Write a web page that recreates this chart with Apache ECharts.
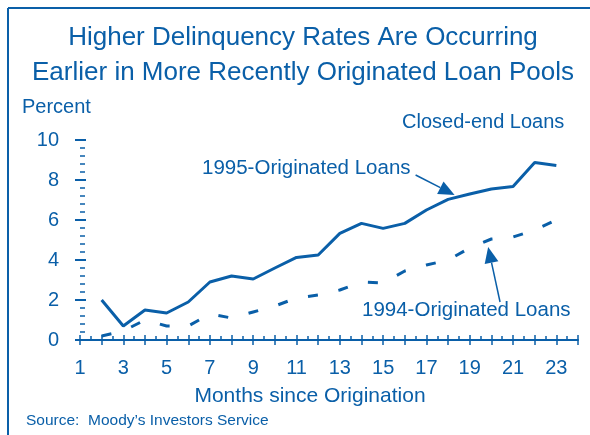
<!DOCTYPE html>
<html>
<head>
<meta charset="utf-8">
<script src="https://cdn.jsdelivr.net/npm/echarts@6/dist/echarts.min.js"></script>
<style>
  html, body { margin: 0; padding: 0; background: #fff; }
  #main { width: 590px; height: 435px; }
</style>
</head>
<body>
<div id="main"></div>
<script>
// months since origination
var months = [2, 3, 4, 5, 6, 7, 8, 9, 10, 11, 12, 13, 14, 15, 16, 17, 18, 19, 20, 21, 22, 23];
// delinquency rate, percent
var loans1995 = [2.0, 0.7, 1.5, 1.35, 1.9, 2.9, 3.2, 3.05, 3.6, 4.13, 4.25, 5.33, 5.83, 5.58, 5.83, 6.5, 7.03, 7.3, 7.55, 7.67, 8.87, 8.73];
var loans1994 = [0.2, 0.45, 1.0, 0.7, 0.7, 1.3, 1.1, 1.4, 1.7, 2.1, 2.25, 2.5, 2.9, 2.85, 3.45, 3.75, 4.0, 4.6, 5.05, 5.15, 5.5, 6.0];
var xTickLabels = ['1', '3', '5', '7', '9', '11', '13', '15', '17', '19', '21', '23'];

var blue = '#0a5fa8';
var font = '"Liberation Sans", Arial, sans-serif';

function pairs(xs, ys) {
    var out = [];
    for (var i = 0; i < xs.length; i++) {
        out.push([xs[i], ys[i]]);
    }
    return out;
}

var mychart = echarts.init(document.getElementById('main'));

var option = {
    animation: false,
    backgroundColor: '#fff',
    textStyle: { fontFamily: font, color: blue },
    grid: { left: 80, right: 12, top: 140, bottom: 95 },
    xAxis: [
        {
            type: 'value', min: 1, max: 24, interval: 1,
            axisLine: { show: true, lineStyle: { color: blue, width: 2 } },
            axisTick: { show: true, inside: true, length: 5, lineStyle: { color: blue, width: 1.5 } },
            minorTick: { show: true, splitNumber: 2, length: 4, lineStyle: { color: blue, width: 1.5 } },
            splitLine: { show: false },
            axisLabel: {
                margin: 18, fontSize: 20, color: blue, fontFamily: font,
                formatter: function (v) {
                    return xTickLabels.indexOf(String(v)) >= 0 ? String(v) : '';
                }
            }
        },
        {
            type: 'value', min: 1, max: 24, interval: 1, position: 'bottom',
            axisLine: { show: false },
            axisTick: { show: true, inside: false, length: 5, lineStyle: { color: blue, width: 1.5 } },
            splitLine: { show: false },
            axisLabel: { show: false }
        }
    ],
    yAxis: [
        {
            type: 'value', min: 0, max: 10, interval: 2,
            axisLine: { show: false },
            axisTick: { show: true, inside: true, length: 6, lineStyle: { color: blue, width: 2 } },
            minorTick: { show: true, splitNumber: 5, length: 5, lineStyle: { color: blue, width: 1.5 } },
            splitLine: { show: false },
            axisLabel: { margin: 21, fontSize: 20, color: blue, fontFamily: font }
        },
        {
            type: 'value', min: 0, max: 10, interval: 2, position: 'left',
            axisLine: { show: false },
            axisTick: { show: true, inside: false, length: 5, lineStyle: { color: blue, width: 2 } },
            splitLine: { show: false },
            axisLabel: { show: false }
        }
    ],
    series: [
        {
            name: '1995-Originated Loans',
            type: 'line',
            symbol: 'none',
            lineStyle: { color: blue, width: 3 },
            data: pairs(months, loans1995)
        },
        {
            name: '1994-Originated Loans',
            type: 'line',
            symbol: 'none',
            lineStyle: { color: blue, width: 3, type: [10, 21] },
            data: pairs(months, loans1994)
        }
    ]
};
mychart.setOption(option);

// arrow from text to line, points given in data units
function arrow(from, to) {
    var a = mychart.convertToPixel({ gridIndex: 0 }, from);
    var b = mychart.convertToPixel({ gridIndex: 0 }, to);
    var ang = Math.atan2(b[1] - a[1], b[0] - a[0]);
    var len = 16, half = 7;
    var bx = b[0] - len * Math.cos(ang), by = b[1] - len * Math.sin(ang);
    var px = -Math.sin(ang) * half, py = Math.cos(ang) * half;
    return [
        { type: 'line', shape: { x1: a[0], y1: a[1], x2: bx, y2: by }, style: { stroke: blue, lineWidth: 1.5 } },
        { type: 'polygon', shape: { points: [[b[0], b[1]], [bx + px, by + py], [bx - px, by - py]] }, style: { fill: blue } }
    ];
}

function label(text, x, y, size, align) {
    return {
        type: 'text', x: x, y: y,
        style: { text: text, fill: blue, font: size + 'px ' + font, align: align || 'left', verticalAlign: 'middle' }
    };
}

var graphics = [
    { type: 'line', shape: { x1: 8, y1: 8, x2: 590, y2: 8 }, style: { stroke: blue, lineWidth: 2 } },
    { type: 'line', shape: { x1: 8, y1: 8, x2: 8, y2: 435 }, style: { stroke: blue, lineWidth: 2 } },
    label('Higher Delinquency Rates Are Occurring', 303, 38, 26, 'center'),
    label('Earlier in More Recently Originated Loan Pools', 303, 73, 26, 'center'),
    label('Percent', 22, 107, 20),
    label('Closed-end Loans', 402, 122, 20),
    label('1995-Originated Loans', 202, 168, 20.5),
    label('1994-Originated Loans', 362, 310, 20.5),
    label('Months since Origination', 310, 396, 21, 'center'),
    label('Source:  Moody\u2019s Investors Service', 26, 421, 15.5)
];
graphics = graphics.concat(arrow([16.5, 8.25], [18.3, 7.25]));
graphics = graphics.concat(arrow([20.4, 1.9], [19.85, 4.65]));

mychart.setOption({ graphic: graphics });
</script>
</body>
</html>
